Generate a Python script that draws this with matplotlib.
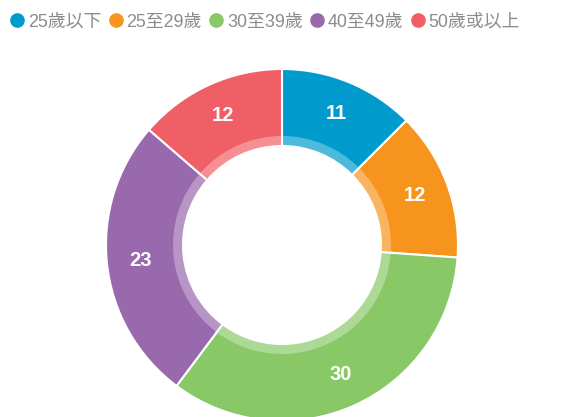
import matplotlib
matplotlib.use("Agg")
import matplotlib.pyplot as plt
from matplotlib.lines import Line2D
import numpy as np

categories = ["25歲以下", "25至29歲", "30至39歲", "40至49歲", "50歲或以上"]
values = [11, 12, 30, 23, 12]
colors = ["#009bcc", "#f7941e", "#89c867", "#9869ac", "#f05f65"]

W, H = 561, 417
fig = plt.figure(figsize=(W / 100, H / 100), dpi=100)
ax = fig.add_axes([0, 0, 1, 1])

cx, cy = 282, H - 245
R_out, R_in, band = 176, 100, 9

def lighten(c, f=0.3):
    r, g, b = matplotlib.colors.to_rgb(c)
    return (r + (1 - r) * f, g + (1 - g) * f, b + (1 - b) * f)

ax.pie(values, colors=colors, startangle=90, counterclock=False,
       radius=R_out, center=(cx, cy), frame=True,
       wedgeprops=dict(width=R_out - R_in, edgecolor="white", linewidth=1.5))
ax.pie(values, colors=[lighten(c) for c in colors], startangle=90, counterclock=False,
       radius=R_in + band, center=(cx, cy), frame=True,
       wedgeprops=dict(width=band, linewidth=0))
total = sum(values)
cum = 0
for v in values:
    a = np.radians(90 - cum / total * 360)
    ax.plot([cx + (R_in - 1) * np.cos(a), cx + (R_in + band + 2) * np.cos(a)],
            [cy + (R_in - 1) * np.sin(a), cy + (R_in + band + 2) * np.sin(a)],
            color="white", lw=1.5, solid_capstyle="butt")
    cum += v

ax.set_xlim(0, W)
ax.set_ylim(0, H)
ax.set_aspect("equal")
ax.axis("off")

cum = 0
r_lab = 142
for v in values:
    mid = 90 - (cum + v / 2) / total * 360
    cum += v
    ax.text(cx + r_lab * np.cos(np.radians(mid)), cy + r_lab * np.sin(np.radians(mid)),
            str(v), ha="center", va="center", color="white", fontsize=14.5,
            fontweight="bold", family=["Liberation Sans", "DejaVu Sans"])

handles = [Line2D([], [], marker="o", linestyle="none", markersize=9.5,
                  markerfacecolor=c, markeredgecolor=c) for c in colors]
leg = fig.legend(handles, categories, loc="center", bbox_to_anchor=(0.474, 1 - 22 / H),
                 ncol=5, frameon=False, handlelength=0.6, handletextpad=0.3,
                 columnspacing=0.5, prop={"family": ["Liberation Sans", "Noto Sans CJK TC"], "size": 12.9})
for t in leg.get_texts():
    t.set_color("#8c8c8c")

fig.savefig("out.png", dpi=100)
